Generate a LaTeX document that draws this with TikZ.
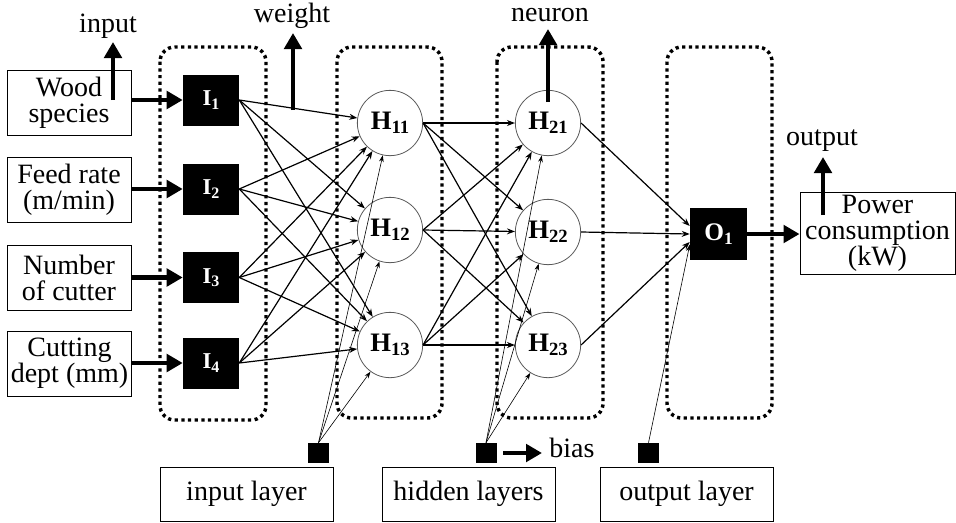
\documentclass[tikz,border=0pt]{standalone}
\usepackage{fontspec}
\setmainfont{Liberation Serif}
\usetikzlibrary{arrows.meta,calc}
\newcommand{\Ilab}[1]{\textbf{I}\raisebox{-0.35ex}{\fontsize{12}{12}\selectfont\textbf{#1}}}
\newcommand{\Hlab}[1]{\textbf{H}\raisebox{-0.3ex}{\fontsize{14}{14}\selectfont\textbf{#1}}}
\begin{document}
\begin{tikzpicture}[x=0.75pt,y=-0.75pt,
  txt/.style={font=\fontsize{21}{19.5}\selectfont, align=center},
  inbox/.style={draw, line width=0.7pt, txt, inner sep=0pt, minimum width=93pt, minimum height=48.75pt},
  inode/.style={fill=black, text=white, inner sep=0pt, minimum width=42pt, minimum height=38.25pt, font=\fontsize{17}{17}\selectfont},
  hnode/.style={circle, draw=black!65, line width=0.6pt, fill=white, inner sep=0pt, minimum size=49pt, font=\fontsize{20}{20}\selectfont},
  biasnode/.style={fill=black, inner sep=0pt, minimum width=15.75pt, minimum height=15pt},
  laybox/.style={draw, line width=0.7pt, txt, inner sep=0pt, minimum width=129.75pt, minimum height=40.5pt},
  frame/.style={line width=2.6pt, dash pattern=on 2.4pt off 2.6pt, rounded corners=11pt},
  bigarrow/.style={line width=3.6pt, -{Triangle[length=12pt,width=13pt]}},
  conn/.style={line width=0.9pt, -{Stealth[length=6pt,width=4.5pt]}},
  biasconn/.style={line width=0.45pt, -{Stealth[length=5pt,width=3.5pt]}},
  lbl/.style={txt, anchor=base, inner sep=0pt}]
\useasboundingbox (0,0) rectangle (956,522);
% layer frames
\draw[frame] (160,47) rectangle (266,420);
\draw[frame] (337,47) rectangle (442,418);
\draw[frame] (497,47) rectangle (603,418);
\draw[frame] (667,47) rectangle (772,418);
% input boxes
\node[inbox] (W) at (69,102.5) {Wood\\species};
\node[inbox] (F) at (69,190) {Feed rate\\(m/min)};
\node[inbox] (N) at (69,277.5) {Number\\of cutter};
\node[inbox] (C) at (69.5,363.5) {Cutting\\dept (mm)};
% input neurons
\node[inode] (I1) at (211,100) {\Ilab{1}};
\node[inode] (I2) at (211,189) {\Ilab{2}};
\node[inode] (I3) at (211,277.5) {\Ilab{3}};
\node[inode] (I4) at (211,363) {\Ilab{4}};
% hidden neurons
\node[hnode] (H11) at (390,123) {\Hlab{11}};
\node[hnode] (H12) at (390,230) {\Hlab{12}};
\node[hnode] (H13) at (390,345) {\Hlab{13}};
\node[hnode] (H21) at (548,123) {\Hlab{21}};
\node[hnode] (H22) at (548,232) {\Hlab{22}};
\node[hnode] (H23) at (548,345) {\Hlab{23}};
% output neuron
\node[inode, minimum width=42.75pt, minimum height=39pt, font=\fontsize{19}{19}\selectfont] (O1) at (718.5,234) {\textbf{O}\raisebox{-0.3ex}{\fontsize{13}{13}\selectfont\textbf{1}}};
\node[inbox, minimum width=116.25pt, minimum height=61.5pt] (P) at (877.5,233) {Power\\consumption\\(kW)};
% bias
\node[biasnode] (B1) at (318.5,453) {};
\node[biasnode] (B2) at (486,453) {};
\node[biasnode] (B3) at (648.5,453) {};
% layer labels
\node[laybox] (LI) at (246.5,494) {input layer};
\node[laybox] (LH) at (468.5,494) {hidden layers};
\node[laybox] (LO) at (686.5,494) {output layer};
% annotation labels
\node[lbl] (tin) at (108,32) {input};
\node[lbl] (tw) at (292,22) {weight};
\node[lbl] (tn) at (550,21) {neuron};
\node[lbl] (tout) at (822,145) {output};
\node[lbl] (tb) at (572,457) {bias};
\coordinate (inA) at (113,100);
\coordinate (inT) at (113,42);
\coordinate (wA) at (293,110);
\coordinate (wT) at (293,33);
\coordinate (nA) at (548,102);
\coordinate (nT) at (548,29);
\coordinate (oA) at (823,215);
\coordinate (oT) at (823,157);
\coordinate (bA) at (503,453);
\coordinate (bT) at (542,453);
% thick arrows
\draw[bigarrow] (W.east |- I1) -- (I1.west);
\draw[bigarrow] (F.east |- I2) -- (I2.west);
\draw[bigarrow] (N.east |- I3) -- (I3.west);
\draw[bigarrow] (C.east |- I4) -- (I4.west);
\draw[bigarrow] (O1.east) -- (O1.east -| P.west);
\draw[bigarrow] (inA) -- (inT);
\draw[bigarrow] (wA) -- (wT);
\draw[bigarrow] (nA) -- (nT);
\draw[bigarrow] (oA) -- (oT);
\draw[bigarrow, line width=3pt] (bA) -- (bT);
% connections
\foreach \i in {1,2,3,4}{
  \foreach \j in {1,2,3}{
    \draw[conn] (I\i.east) -- (H1\j);
  }
}
\foreach \i in {1,2,3}{
  \foreach \j in {1,2,3}{
    \draw[conn] (H1\i.east) -- (H2\j);
  }
}
\draw[conn] (H21.east) -- ([yshift=6pt]O1.west);
\draw[conn] (H22.east) -- (O1.west);
\draw[conn] (H23.east) -- ([yshift=-6pt]O1.west);
\foreach \j in {1,2,3}{
  \draw[biasconn] (B1.north) -- (H1\j);
  \draw[biasconn] (B2.north) -- (H2\j);
}
\draw[biasconn] (B3.north) -- ([yshift=-8pt]O1.west);
\end{tikzpicture}
\end{document}
